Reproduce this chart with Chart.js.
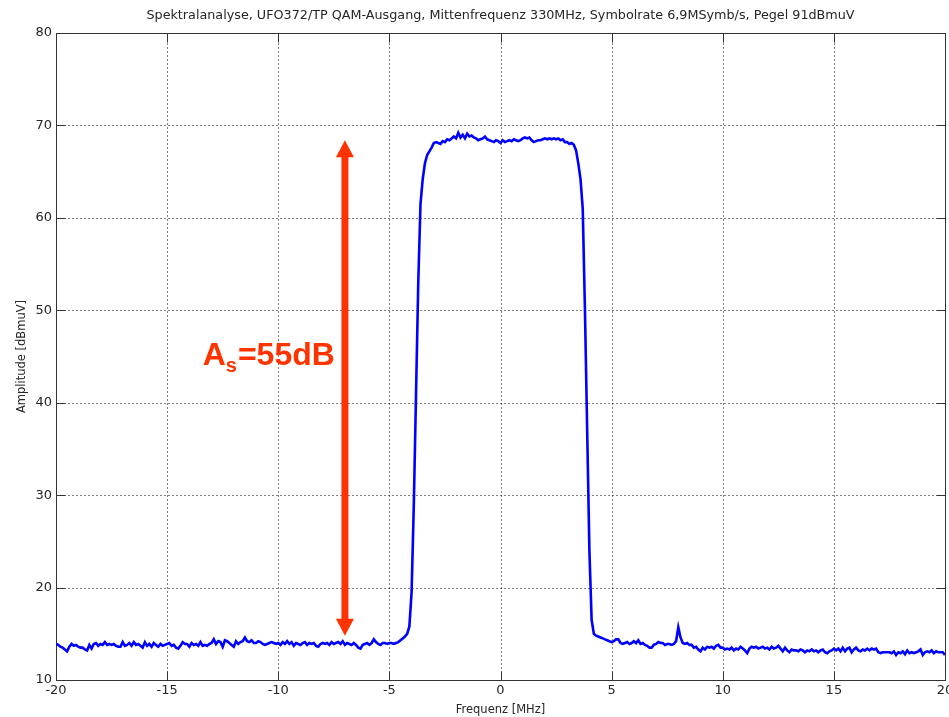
<!DOCTYPE html>
<html><head><meta charset="utf-8">
<script src="https://cdn.jsdelivr.net/npm/chart.js@4.4.1/dist/chart.umd.min.js"></script>
<style>html,body{margin:0;padding:0;background:#fff;overflow:hidden}#wrap{width:949px;height:717px;position:relative}</style>
</head><body><div id="wrap"><canvas id="c"></canvas></div>
<script>
const chartTitle = "Spektralanalyse, UFO372/TP QAM-Ausgang, Mittenfrequenz 330MHz, Symbolrate 6,9MSymb/s, Pegel 91dBmuV";
const xAxisTitle = "Frequenz [MHz]";
const yAxisTitle = "Amplitude [dBmuV]";
const xTicks = [-20, -15, -10, -5, 0, 5, 10, 15, 20];
const yTicks = [10, 20, 30, 40, 50, 60, 70, 80];

const freqs = [
-20,-19.9,-19.8,-19.7,-19.6,-19.5,-19.4,-19.3,-19.2,-19.1,
-19,-18.9,-18.8,-18.7,-18.6,-18.5,-18.4,-18.3,-18.2,-18.1,
-18,-17.9,-17.8,-17.7,-17.6,-17.5,-17.4,-17.3,-17.2,-17.1,
-17,-16.9,-16.8,-16.7,-16.6,-16.5,-16.4,-16.3,-16.2,-16.1,
-16,-15.9,-15.8,-15.7,-15.6,-15.5,-15.4,-15.3,-15.2,-15.1,
-15,-14.9,-14.8,-14.7,-14.6,-14.5,-14.4,-14.3,-14.2,-14.1,
-14,-13.9,-13.8,-13.7,-13.6,-13.5,-13.4,-13.3,-13.2,-13.1,
-13,-12.9,-12.8,-12.7,-12.6,-12.5,-12.4,-12.3,-12.2,-12.1,
-12,-11.9,-11.8,-11.7,-11.6,-11.5,-11.4,-11.3,-11.2,-11.1,
-11,-10.9,-10.8,-10.7,-10.6,-10.5,-10.4,-10.3,-10.2,-10.1,
-10,-9.9,-9.8,-9.7,-9.6,-9.5,-9.4,-9.3,-9.2,-9.1,
-9,-8.9,-8.8,-8.7,-8.6,-8.5,-8.4,-8.3,-8.2,-8.1,
-8,-7.9,-7.8,-7.7,-7.6,-7.5,-7.4,-7.3,-7.2,-7.1,
-7,-6.9,-6.8,-6.7,-6.6,-6.5,-6.4,-6.3,-6.2,-6.1,
-6,-5.9,-5.8,-5.7,-5.6,-5.5,-5.4,-5.3,-5.2,-5.1,
-5,-4.9,-4.8,-4.7,-4.6,-4.5,-4.4,-4.3,-4.2,-4.1,
-4,-3.9,-3.8,-3.7,-3.6,-3.5,-3.4,-3.3,-3.2,-3.1,
-3,-2.9,-2.8,-2.7,-2.6,-2.5,-2.4,-2.3,-2.2,-2.1,
-2,-1.9,-1.8,-1.7,-1.6,-1.5,-1.4,-1.3,-1.2,-1.1,
-1,-0.9,-0.8,-0.7,-0.6,-0.5,-0.4,-0.3,-0.2,-0.1,
0,0.1,0.2,0.3,0.4,0.5,0.6,0.7,0.8,0.9,
1,1.1,1.2,1.3,1.4,1.5,1.6,1.7,1.8,1.9,
2,2.1,2.2,2.3,2.4,2.5,2.6,2.7,2.8,2.9,
3,3.1,3.2,3.3,3.4,3.5,3.6,3.7,3.8,3.9,
4,4.1,4.2,4.3,4.4,4.5,4.6,4.7,4.8,4.9,
5,5.1,5.2,5.3,5.4,5.5,5.6,5.7,5.8,5.9,
6,6.1,6.2,6.3,6.4,6.5,6.6,6.7,6.8,6.9,
7,7.1,7.2,7.3,7.4,7.5,7.6,7.7,7.8,7.9,
8,8.1,8.2,8.3,8.4,8.5,8.6,8.7,8.8,8.9,
9,9.1,9.2,9.3,9.4,9.5,9.6,9.7,9.8,9.9,
10,10.1,10.2,10.3,10.4,10.5,10.6,10.7,10.8,10.9,
11,11.1,11.2,11.3,11.4,11.5,11.6,11.7,11.8,11.9,
12,12.1,12.2,12.3,12.4,12.5,12.6,12.7,12.8,12.9,
13,13.1,13.2,13.3,13.4,13.5,13.6,13.7,13.8,13.9,
14,14.1,14.2,14.3,14.4,14.5,14.6,14.7,14.8,14.9,
15,15.1,15.2,15.3,15.4,15.5,15.6,15.7,15.8,15.9,
16,16.1,16.2,16.3,16.4,16.5,16.6,16.7,16.8,16.9,
17,17.1,17.2,17.3,17.4,17.5,17.6,17.7,17.8,17.9,
18,18.1,18.2,18.3,18.4,18.5,18.6,18.7,18.8,18.9,
19,19.1,19.2,19.3,19.4,19.5,19.6,19.7,19.8,19.9,
20
];

const amplitude = [
13.9,13.8,13.6,13.5,13.3,13.1,13.6,13.9,13.7,13.8,
13.6,13.5,13.5,13.3,13.2,13.8,13.4,13.9,14.0,13.7,
13.9,13.8,14.1,13.8,13.9,13.8,13.9,13.7,13.6,13.6,
14.1,13.7,13.8,14.0,13.7,14.1,13.8,13.9,13.7,13.5,
14.1,13.7,13.9,13.6,14.0,13.8,13.6,13.9,13.7,13.8,
13.9,14.0,13.7,13.8,13.5,13.4,13.7,14.1,13.9,13.9,
13.6,14.0,13.8,13.9,13.7,14.1,13.7,13.8,13.7,13.9,
14.0,14.4,13.9,14.2,14.1,13.6,14.3,14.2,14.0,13.8,
13.6,14.2,13.9,14.1,14.2,14.6,14.2,14.1,14.3,14.0,
14.0,14.2,14.1,13.9,13.8,13.9,14.0,14.1,14.0,13.9,
14.0,13.8,14.1,13.9,14.2,13.9,14.1,13.7,14.0,13.9,
13.8,14.0,14.1,13.8,14.0,13.9,14.0,13.7,13.6,13.9,
14.0,13.9,14.0,13.8,14.1,13.9,14.0,14.1,13.9,14.2,
13.8,14.0,13.9,13.8,14.0,13.8,13.5,13.4,13.8,13.9,
14.0,13.8,14.0,14.4,14.1,13.9,13.8,14.0,14.0,13.9,
14.0,14.0,13.9,14.0,14.1,14.3,14.5,14.7,15.0,15.8,
19.5,29,41,53,61.5,64.2,65.9,66.8,67.2,67.6,
68.1,68.2,68.1,68.0,68.3,68.2,68.5,68.4,68.6,68.8,
68.6,69.2,68.7,69.0,68.6,69.1,68.8,68.9,68.7,68.6,
68.4,68.5,68.6,68.8,68.5,68.4,68.3,68.2,68.4,68.3,
68.1,68.4,68.2,68.3,68.4,68.3,68.5,68.4,68.3,68.4,
68.6,68.7,68.6,68.7,68.4,68.2,68.3,68.4,68.4,68.5,
68.6,68.5,68.6,68.5,68.6,68.5,68.6,68.4,68.5,68.2,
68.2,68.0,68.1,67.9,67.3,65.9,64.2,61.0,50,37,
24,16.5,15.0,14.8,14.7,14.6,14.5,14.4,14.3,14.2,
14.1,14.2,14.4,14.4,14.0,13.9,14.0,14.1,13.9,14.0,
14.2,14.0,14.3,13.9,14.0,13.8,13.7,13.5,13.5,13.8,
13.9,14.1,14.0,14.0,13.8,13.9,13.9,13.8,13.9,14.2,
15.7,14.6,14.0,13.9,14.0,13.8,13.8,13.5,13.6,13.3,
13.1,13.5,13.3,13.6,13.5,13.6,13.4,13.7,13.8,13.5,
13.5,13.3,13.4,13.3,13.5,13.2,13.4,13.3,13.6,13.4,
13.2,12.9,13.4,13.6,13.5,13.6,13.4,13.5,13.6,13.4,
13.5,13.3,13.6,13.4,13.5,13.7,13.4,13.1,13.5,13.2,
13.0,13.3,13.2,13.2,13.1,13.3,13.2,13.0,13.2,13.1,
13.3,13.1,13.2,13.0,13.2,13.3,13.0,12.9,13.1,13.2,
13.4,13.2,13.4,13.1,13.5,13.1,13.4,13.5,13.0,13.3,
13.5,13.2,13.1,13.3,13.2,13.4,13.2,13.4,13.3,13.4,
13.0,12.9,13.0,13.0,13.0,13.0,12.9,13.1,12.7,13.0,
12.9,13.1,12.8,13.2,12.9,13.0,12.9,13.0,13.1,13.3,
12.7,13.0,13.1,13.0,13.2,12.9,13.1,13.0,13.0,13.0,
12.7
];

// annotation (data coordinates)
const arrowFreq = -7;
const arrowLow = 14.8;
const arrowHigh = 68.4;
const labelFreq = -13.4;
const labelLevel = 44.1;
const labelParts = ["A", "s", "=55dB"];

const AXIS_COLOR = '#333';
const TEXT_COLOR = '#262626';
const ARROW_COLOR = '#FF3300';

const framePlugin = {
  id: 'frame',
  beforeDatasetsDraw(chart) {
    const {ctx, chartArea: a, scales: {x, y}} = chart;
    const L = Math.round(a.left) + 0.5, R = Math.round(a.right) + 0.5;
    const T = Math.round(a.top) + 0.5, B = Math.round(a.bottom) + 0.5;
    ctx.save();
    ctx.strokeStyle = '#000';
    ctx.lineWidth = 1;
    ctx.setLineDash([1, 3]);
    xTicks.forEach(v => {
      const px = Math.round(x.getPixelForValue(v)) + 0.5;
      ctx.beginPath(); ctx.moveTo(px, B); ctx.lineTo(px, T); ctx.stroke();
    });
    yTicks.forEach(v => {
      const py = Math.round(y.getPixelForValue(v)) + 0.5;
      ctx.beginPath(); ctx.moveTo(L, py); ctx.lineTo(R, py); ctx.stroke();
    });
    ctx.setLineDash([]);
    ctx.strokeStyle = AXIS_COLOR;
    ctx.strokeRect(L, T, R - L, B - T);
    const tl = 9;
    ctx.beginPath();
    xTicks.forEach(v => {
      const px = Math.round(x.getPixelForValue(v)) + 0.5;
      ctx.moveTo(px, B); ctx.lineTo(px, B - tl);
      ctx.moveTo(px, T); ctx.lineTo(px, T + tl);
    });
    yTicks.forEach(v => {
      const py = Math.round(y.getPixelForValue(v)) + 0.5;
      ctx.moveTo(L, py); ctx.lineTo(L + tl, py);
      ctx.moveTo(R, py); ctx.lineTo(R - tl, py);
    });
    ctx.stroke();
    ctx.restore();
  }
};

const annotationPlugin = {
  id: 'annot',
  afterDatasetsDraw(chart) {
    const {ctx, scales: {x, y}} = chart;
    const px = x.getPixelForValue(arrowFreq);
    const top = y.getPixelForValue(arrowHigh);
    const bot = y.getPixelForValue(arrowLow);
    const headLen = 17, headW = 18, shaftW = 7;
    ctx.save();
    ctx.fillStyle = ARROW_COLOR;
    ctx.fillRect(px - shaftW / 2, top + headLen - 1, shaftW, (bot - top) - 2 * headLen + 2);
    ctx.beginPath();
    ctx.moveTo(px, top); ctx.lineTo(px + headW / 2, top + headLen); ctx.lineTo(px - headW / 2, top + headLen);
    ctx.closePath(); ctx.fill();
    ctx.beginPath();
    ctx.moveTo(px, bot); ctx.lineTo(px + headW / 2, bot - headLen); ctx.lineTo(px - headW / 2, bot - headLen);
    ctx.closePath(); ctx.fill();
    let tx = x.getPixelForValue(labelFreq);
    const ty = y.getPixelForValue(labelLevel);
    ctx.textAlign = 'left';
    ctx.textBaseline = 'alphabetic';
    const big = 'bold 32px "Liberation Sans", Arial, sans-serif';
    const small = 'bold 20px "Liberation Sans", Arial, sans-serif';
    ctx.font = big; ctx.fillText(labelParts[0], tx, ty); tx += ctx.measureText(labelParts[0]).width;
    ctx.font = small; ctx.fillText(labelParts[1], tx, ty + 7); tx += ctx.measureText(labelParts[1]).width + 1;
    ctx.font = big; ctx.fillText(labelParts[2], tx, ty);
    ctx.restore();
  }
};

new Chart(document.getElementById('c'), {
  type: 'line',
  data: {
    datasets: [{
      data: freqs.map((f, i) => ({x: f, y: amplitude[i]})),
      borderColor: '#0000FF',
      borderWidth: 2.6,
      pointRadius: 0,
      tension: 0,
      fill: false
    }]
  },
  options: {
    responsive: true,
    maintainAspectRatio: false,
    animation: false,
    devicePixelRatio: 1,
    layout: {padding: 0},
    plugins: {
      legend: {display: false},
      tooltip: {enabled: false},
      title: {
        display: true,
        text: chartTitle,
        fullSize: false,
        color: TEXT_COLOR,
        font: {family: '"DejaVu Sans", sans-serif', size: 12.75, weight: 'normal', lineHeight: 1.1},
        padding: {top: 9, bottom: 10}
      }
    },
    scales: {
      x: {
        type: 'linear',
        min: xTicks[0], max: xTicks[xTicks.length - 1],
        afterBuildTicks: s => { s.ticks = xTicks.map(v => ({value: v})); },
        afterFit: s => { s.height = 37; s.paddingRight = 4; s.paddingLeft = 0; },
        grid: {display: false, drawTicks: false},
        border: {display: false},
        ticks: {color: TEXT_COLOR, padding: 3, maxRotation: 0, autoSkip: false,
                font: {family: '"DejaVu Sans", sans-serif', size: 13}},
        title: {display: true, text: xAxisTitle, color: TEXT_COLOR, padding: {top: 0, bottom: 0},
                font: {family: '"DejaVu Sans", sans-serif', size: 11.5}}
      },
      y: {
        type: 'linear',
        min: yTicks[0], max: yTicks[yTicks.length - 1],
        afterBuildTicks: s => { s.ticks = yTicks.map(v => ({value: v})); },
        afterFit: s => { s.width = 56; },
        grid: {display: false, drawTicks: false},
        border: {display: false},
        ticks: {color: TEXT_COLOR, padding: 4, autoSkip: false,
                font: {family: '"DejaVu Sans", sans-serif', size: 13}},
        title: {display: true, text: yAxisTitle, color: TEXT_COLOR, padding: {top: 15, bottom: 0},
                font: {family: '"DejaVu Sans", sans-serif', size: 11.5}}
      }
    }
  },
  plugins: [framePlugin, annotationPlugin]
});
</script>
</body></html>
